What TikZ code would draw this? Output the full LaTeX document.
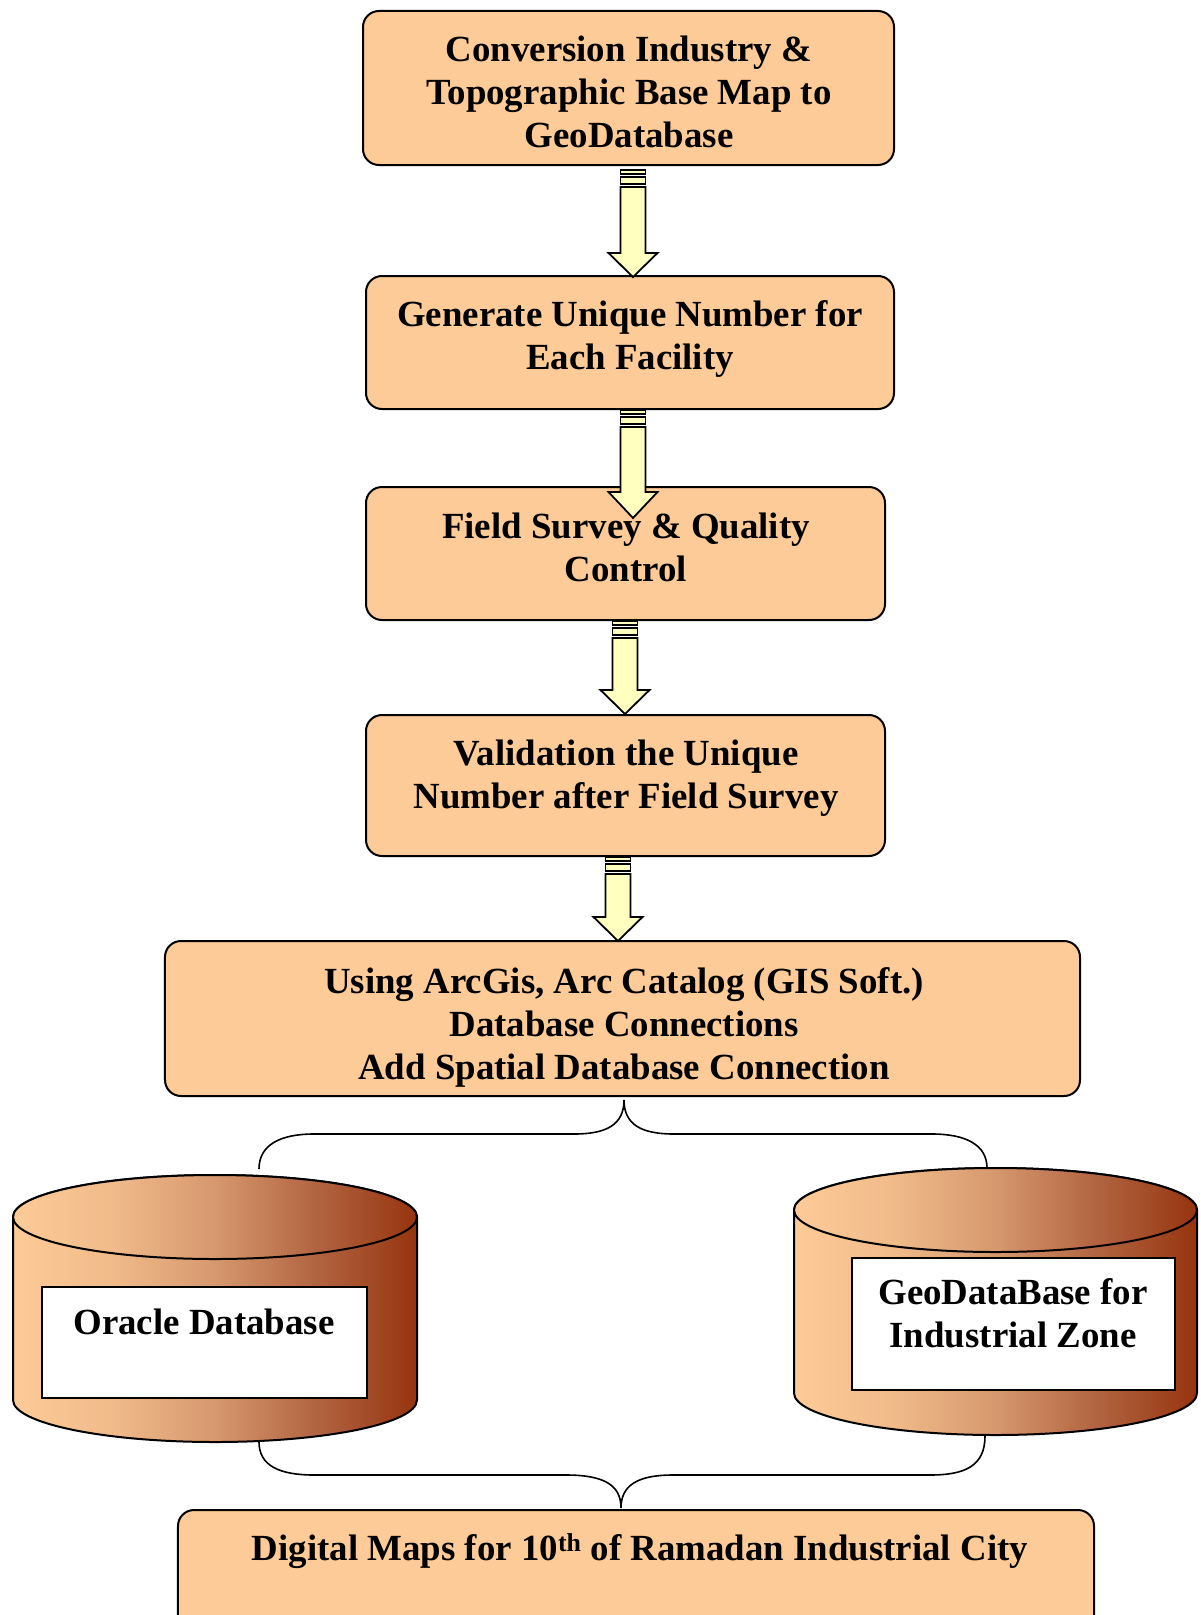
\documentclass[tikz,border=0pt]{standalone}
\usepackage{fontspec}
\setmainfont{Liberation Serif}
\definecolor{peach}{RGB}{253,203,152}
\definecolor{lightyel}{RGB}{255,255,192}
\definecolor{cyla}{RGB}{253,203,152}
\definecolor{cylb}{RGB}{240,186,137}
\definecolor{cylc}{RGB}{214,152,110}
\definecolor{cyld}{RGB}{178,100,65}
\definecolor{cyle}{RGB}{150,52,15}
\pgfdeclarehorizontalshading{cylshade}{100bp}{color(0bp)=(cyla); color(25bp)=(cyla); color(37.5bp)=(cylb); color(50bp)=(cylc); color(62.5bp)=(cyld); color(75bp)=(cyle); color(100bp)=(cyle)}
\tikzset{
  procbox/.style={draw, line width=2bp, rounded corners=16bp, fill=peach, inner sep=0pt},
  lbl/.style={font=\bfseries\fontsize{37}{43}\selectfont, align=center, inner sep=0pt},
  arrowpart/.style={draw, line width=1.8bp, fill=lightyel, line join=miter},
  bracepath/.style={draw, line width=1.6bp},
  dbrect/.style={draw, fill=white, line width=2bp, inner sep=0pt},
  cylpart/.style={draw, line width=2bp, shading=cylshade},
}
\newcommand\blkarrow[4]{%
  \draw[arrowpart] (#1-12.5,#2) rectangle (#1+12.5,#2+4);
  \draw[arrowpart] (#1-12.5,#2+7) rectangle (#1+12.5,#2+14);
  \draw[arrowpart] (#1-12.5,#2+17) -- (#1-12.5,#3) -- (#1-24.5,#3) -- (#1,#4) -- (#1+24.5,#3) -- (#1+12.5,#3) -- (#1+12.5,#2+17) -- cycle;
}
\newcommand\cylinder[5]{% #1 left x, #2 right x, #3 top centre y, #4 bottom centre y, #5 y radius
  \path[cylpart] (#1,#3) -- (#1,#4) arc[start angle=180, end angle=0, x radius={(#2-#1)/2}, y radius=#5] -- (#2,#3) arc[start angle=0, end angle=-180, x radius={(#2-#1)/2}, y radius=#5] -- cycle;
  \path[cylpart] ({(#1+#2)/2},#3) ellipse[x radius={(#2-#1)/2}, y radius=#5];
}
\begin{document}
\begin{tikzpicture}[x=1bp, y=-1bp]
\useasboundingbox (0,0) rectangle (1200,1615);
\clip (0,0) rectangle (1200,1615);
\fill[white] (0,0) rectangle (1200,1615);

% process boxes
\node[procbox, minimum width=531bp, minimum height=154bp] (b1) at (628.5,88) {};
\node[procbox, minimum width=528bp, minimum height=133bp] (b2) at (630,342.5) {};
\node[procbox, minimum width=519bp, minimum height=133bp] (b3) at (625.5,553.5) {};
\node[procbox, minimum width=519bp, minimum height=141bp] (b4) at (625.5,785.5) {};
\node[procbox, minimum width=915bp, minimum height=155bp] (b5) at (622.5,1018.5) {};
\node[procbox, minimum width=916bp, minimum height=160bp] (b6) at (636,1590) {};

\node[lbl] (t1) at (629,92) {Conversion Industry \&\\Topographic Base Map to\\GeoDatabase};
\node[lbl] (t2) at (630,339) {Generate Unique Number for\\Each Facility};
\node[lbl] (t3) at (626,547) {Field Survey \& Quality\\Control};
\node[lbl] (t4) at (626,778.5) {Validation the Unique\\Number after Field Survey};
\node[lbl] (t5) at (624,1027.5) {Using ArcGis, Arc Catalog (GIS Soft.)\\Database Connections\\Add Spatial Database Connection};
\node[lbl, anchor=base] (t6) at (640,1560) {Digital Maps for 10\textsuperscript{th} of Ramadan Industrial City};

% block arrows
\blkarrow{633}{170}{253}{277}
\blkarrow{633}{410}{492}{518}
\blkarrow{625}{621}{690}{714}
\blkarrow{618}{857}{917}{941}

% cylinders
\cylinder{13}{417}{1217}{1400}{42}
\cylinder{794}{1197}{1210}{1393}{42}
\node[dbrect, minimum width=325bp, minimum height=111bp] (r1) at (204.5,1342.5) {};
\node[dbrect, minimum width=323bp, minimum height=132bp] (r2) at (1013,1324) {};
\node[lbl, anchor=base] (t7) at (204,1334) {Oracle Database};
\node[lbl] (t8) at (1013,1313) {GeoDataBase for\\Industrial Zone};

% braces
\coordinate (bt) at (624,1100);
\coordinate (btl) at (259,1169);
\coordinate (btr) at (987,1168);
\draw[bracepath] (btl) .. controls (259,1145) and (280,1134) .. (314,1134) -- (574,1134) .. controls (606,1134) and (624,1125) .. (bt) .. controls (624,1125) and (642,1134) .. (674,1134) -- (932,1134) .. controls (966,1134) and (987,1145) .. (btr);
\coordinate (bb) at (621,1508);
\coordinate (bbl) at (259,1442);
\coordinate (bbr) at (985,1436);
\draw[bracepath] (bbl) .. controls (259,1466) and (280,1475) .. (314,1475) -- (566,1475) .. controls (604,1475) and (621,1485) .. (bb) .. controls (621,1485) and (638,1475) .. (673,1475) -- (930,1475) .. controls (965,1475) and (985,1466) .. (bbr);
\end{tikzpicture}
\end{document}
